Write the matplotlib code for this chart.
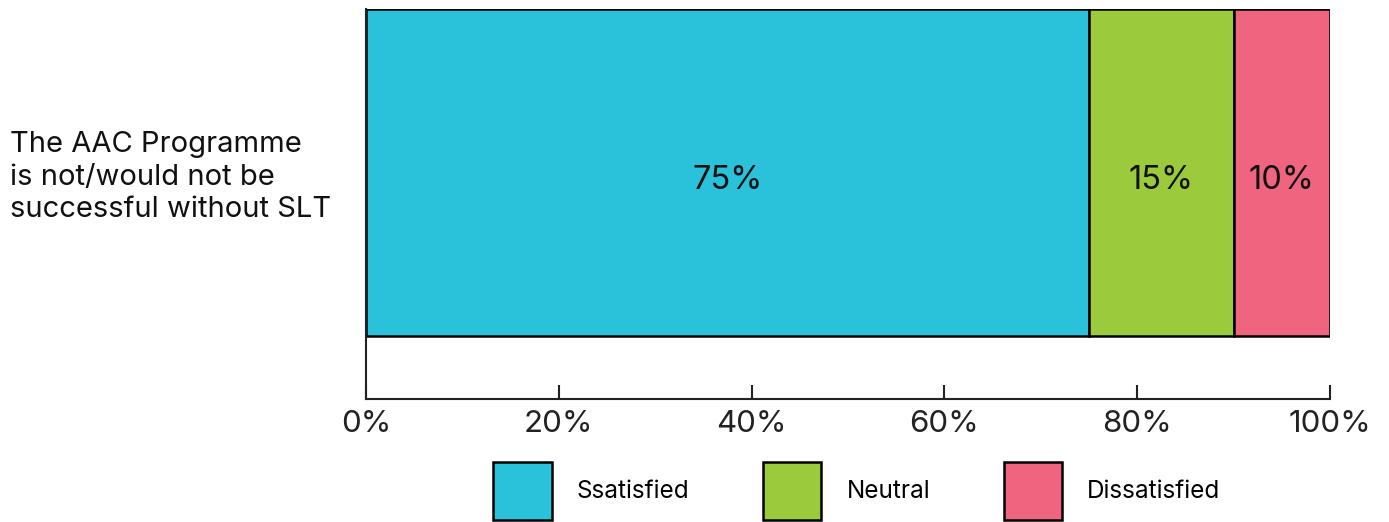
import matplotlib
matplotlib.use("Agg")
import matplotlib.pyplot as plt
from matplotlib.patches import Patch

plt.rcParams['font.family'] = ['Inter', 'DejaVu Sans']

category = "The AAC Programme\nis not/would not be\nsuccessful without SLT"
labels = ["Ssatisfied", "Neutral", "Dissatisfied"]
values = [75, 15, 10]
colors = ["#2AC1DA", "#9BCB3C", "#EF647E"]
ticks = [0, 20, 40, 60, 80, 100]

fig = plt.figure(figsize=(13.89, 5.22), dpi=100)
ax = fig.add_axes([366 / 1389, 1 - 399 / 522, 964 / 1389, 390 / 522])

left = 0
for lab, v, c in zip(labels, values, colors):
    ax.barh(0.5, v, height=1.0, left=left, color=c, edgecolor="black",
            linewidth=1.8, label=lab)
    ax.text(left + v / 2, 0.5 - 8 / 327, f"{v}%", ha="center", va="center",
            fontsize=23.5, color="#111111")
    left += v

ax.set_xlim(0, 100)
ax.set_ylim(-63 / 327, 1)
ax.set_xticks(ticks)
ax.set_xticklabels([f"{t}%" for t in ticks], fontsize=22.5)
ax.tick_params(axis="x", direction="in", length=10, width=1.5, pad=8,
               colors="#222222", labelcolor="#222222")
ax.set_yticks([])
for s in ["top", "right"]:
    ax.spines[s].set_visible(False)
for s in ["left", "bottom"]:
    ax.spines[s].set_linewidth(1.5)
    ax.spines[s].set_color("#222222")

fig.text(10 / 1389, 1 - 177 / 522, category, ha="left", va="center",
         fontsize=21, linespacing=1.28, color="#111111")

handles = [Patch(facecolor=c, edgecolor="black", linewidth=1.8, label=l)
           for l, c in zip(labels, colors)]
fig.legend(handles=handles, loc="center", bbox_to_anchor=(857 / 1389, 1 - 491 / 522),
           ncol=3, frameon=False, fontsize=17.5, handlelength=2.39, handleheight=3.3,
           handletextpad=1.03, columnspacing=3.05, borderpad=0)

fig.savefig("out.png", dpi=100)
